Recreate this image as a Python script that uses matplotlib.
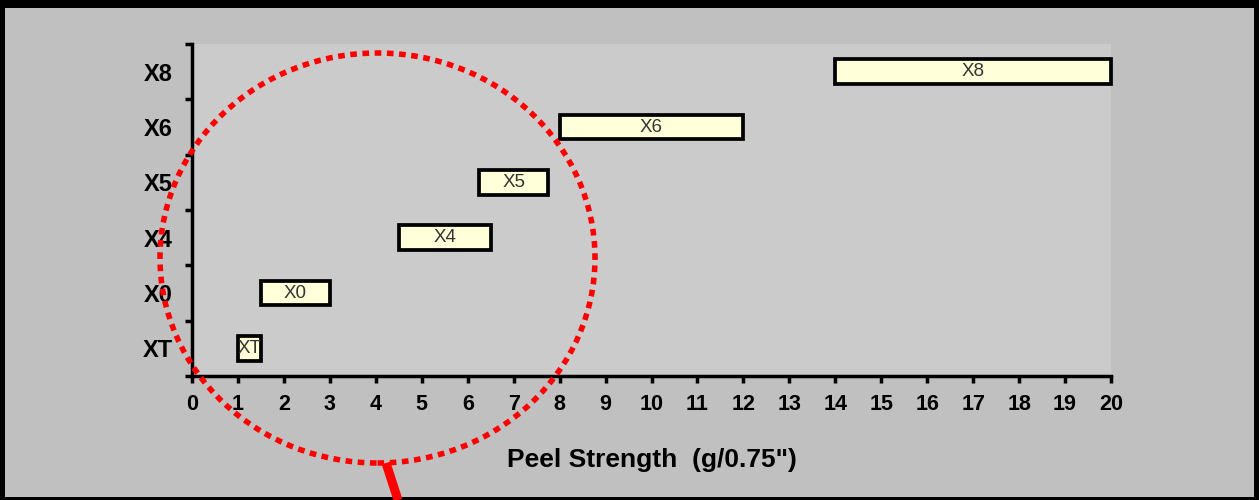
import matplotlib
matplotlib.use('Agg')
import matplotlib.pyplot as plt
from matplotlib.patches import Ellipse, Rectangle
from matplotlib.lines import Line2D

# data
categories = ['XT', 'X0', 'X4', 'X5', 'X6', 'X8']
starts = [1.0, 1.5, 4.5, 6.25, 8.0, 14.0]
ends = [1.5, 3.0, 6.5, 7.75, 12.0, 20.0]
xticks = list(range(0, 21))
xlabel = 'Peel Strength  (g/0.75")'

W, H = 1259, 500
plt.rcParams['font.family'] = ['Liberation Sans', 'DejaVu Sans']

fig = plt.figure(figsize=(W / 100, H / 100), dpi=100)
fig.patch.set_facecolor('#c0c0c0')
ax = fig.add_axes([192 / W, 1 - 376 / H, (1111 - 192) / W, (376 - 44) / H])
ax.set_facecolor('#cbcbcb')

ypos = list(range(len(categories)))
widths = [e - s for s, e in zip(starts, ends)]
bars = ax.barh(ypos, widths, left=starts, height=0.45, color='#ffffd9',
               edgecolor='black', linewidth=2.7, zorder=3)
for b in bars:
    b.set_clip_on(False)
for y, s, e, c in zip(ypos, starts, ends, categories):
    ax.text((s + e) / 2, y, c, ha='center', va='center', fontsize=13.5,
            color='#333333', zorder=4)

ax.set_xlim(0, 20)
ax.set_ylim(-0.5, len(categories) - 0.5)
ax.set_xticks(xticks)
ax.set_xticklabels([str(t) for t in xticks], fontsize=15.5, fontweight='bold')
ax.set_yticks([i - 0.5 for i in range(len(categories) + 1)])
ax.set_yticklabels([])
ax.set_yticks(ypos, minor=True)
ax.set_yticklabels(categories, minor=True, fontsize=17, fontweight='bold')
ax.tick_params(axis='y', which='minor', length=0, pad=14)
ax.tick_params(axis='both', which='major', length=5, width=2.5, direction='out')
ax.tick_params(axis='x', pad=8)

for side in ['top', 'right']:
    ax.spines[side].set_visible(False)
for side in ['left', 'bottom']:
    ax.spines[side].set_linewidth(2.5)

ax.set_xlabel(xlabel, fontsize=19, fontweight='bold', labelpad=24)

# red dotted callout circle and pointer
ell = Ellipse((377.5 / W, 1 - 258 / H), 435 / W, 410 / H, transform=fig.transFigure,
              fill=False, edgecolor='red', linewidth=4.0, linestyle=(0, (1.2, 1.0)),
              zorder=10)
fig.add_artist(ell)
fig.add_artist(Line2D([386 / W, 398 / W], [1 - 463 / H, 0], transform=fig.transFigure,
                      color='red', linewidth=6.5, solid_capstyle='butt'))

# black frame
for (x0, y0, w, h) in [(0, 1 - 8 / H, 1, 8 / H), (0, 0, 5 / W, 1),
                       (1 - 5 / W, 0, 5 / W, 1), (0, 0, 1, 3 / H)]:
    fig.add_artist(Rectangle((x0, y0), w, h, transform=fig.transFigure,
                             facecolor='black', edgecolor='none'))

fig.savefig('out.png', dpi=100, facecolor=fig.get_facecolor())
plt.close()
